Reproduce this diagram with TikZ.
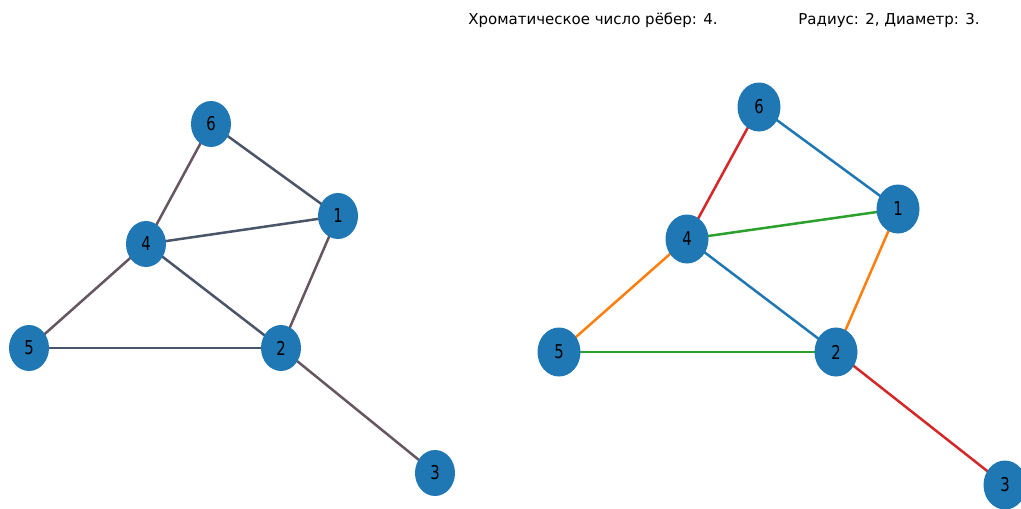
\documentclass[tikz,border=0pt]{standalone}
\usepackage{graphicx}
\usepackage{fontspec}
\setmainfont{DejaVu Sans}
\usetikzlibrary{shapes.geometric,backgrounds}
\definecolor{nodeblue}{HTML}{1F77B4}
\definecolor{eblue}{HTML}{1F77B4}
\definecolor{eorange}{HTML}{FF7F0E}
\definecolor{egreen}{HTML}{2CA02C}
\definecolor{ered}{HTML}{D62728}
\definecolor{graya}{HTML}{4A5568}
\definecolor{grayb}{HTML}{665660}
\newcommand{\vlbl}[1]{\scalebox{0.78}[1]{#1}}
\begin{document}
\begin{tikzpicture}[x=1pt,y=-1pt,
  vtx/.style={ellipse,fill=nodeblue,minimum width=40pt,minimum height=46pt,inner sep=0pt,font=\fontsize{19}{19}\selectfont},
  vtxr/.style={vtx,minimum width=43pt,minimum height=49pt},
  edge/.style={line width=2.5pt},
  title/.style={font=\fontsize{15}{15}\selectfont,anchor=base}]
\useasboundingbox (0,0) rectangle (1021,509);
\clip (0,0) rectangle (1021,509);
\node[title] (t1) at (593,24) {Хроматическое число рёбер: 4.};
\node[title] (t2) at (889,24) {Радиус: 2, Диаметр: 3.};
% left graph
\node[vtx] (l6) at (211,124) {\vlbl{6}};
\node[vtx] (l1) at (338,216) {\vlbl{1}};
\node[vtx] (l4) at (146,244) {\vlbl{4}};
\node[vtx] (l5) at (29,348) {\vlbl{5}};
\node[vtx] (l2) at (281,348) {\vlbl{2}};
\node[vtx] (l3) at (435,473) {\vlbl{3}};
% right graph
\node[vtxr] (r6) at (759,107) {\vlbl{6}};
\node[vtxr] (r1) at (898,209) {\vlbl{1}};
\node[vtxr] (r4) at (687,239) {\vlbl{4}};
\node[vtxr] (r5) at (559,352) {\vlbl{5}};
\node[vtxr] (r2) at (836,352) {\vlbl{2}};
\node[vtxr] (r3) at (1005,485) {\vlbl{3}};
\begin{scope}[on background layer]
% edges left
\draw[edge,graya] (l6.center) -- (l1.center);
\draw[edge,graya] (l4.center) -- (l1.center);
\draw[edge,graya] (l4.center) -- (l2.center);
\draw[edge,graya] (l5.center) -- (l2.center);
\draw[edge,grayb] (l6.center) -- (l4.center);
\draw[edge,grayb] (l4.center) -- (l5.center);
\draw[edge,grayb] (l1.center) -- (l2.center);
\draw[edge,grayb] (l2.center) -- (l3.center);
% edges right
\draw[edge,eblue] (r6.center) -- (r1.center);
\draw[edge,egreen] (r4.center) -- (r1.center);
\draw[edge,eblue] (r4.center) -- (r2.center);
\draw[edge,egreen] (r5.center) -- (r2.center);
\draw[edge,ered] (r6.center) -- (r4.center);
\draw[edge,eorange] (r4.center) -- (r5.center);
\draw[edge,eorange] (r1.center) -- (r2.center);
\draw[edge,ered] (r2.center) -- (r3.center);
\end{scope}
\end{tikzpicture}
\end{document}
